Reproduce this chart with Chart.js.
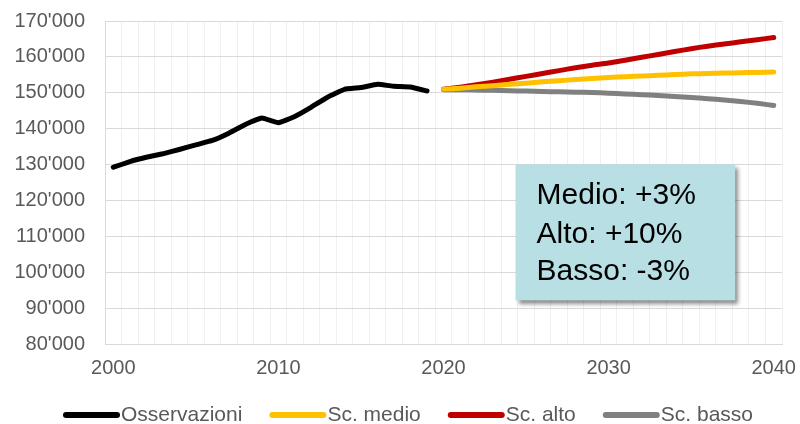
<!DOCTYPE html>
<html>
<head>
<meta charset="utf-8">
<script src="https://cdn.jsdelivr.net/npm/chart.js@4"></script>
<style>
  body { margin: 0; background: #fff; }
  #wrap { width: 800px; height: 424px; }
</style>
</head>
<body>
<div id="wrap"><canvas id="popChart" width="800" height="424"></canvas></div>
<script>
// anni 2000-2040
var years = [];
for (var y = 2000; y <= 2040; y++) years.push(y);

var osservazioni = [129300, 130900, 132100, 133050, 134250, 135550, 136760, 138800, 141230, 143000,
  141700, 143460, 146060, 148860, 151000, 151480, 152400, 151840, 151650, 150530];
var scMedio = [151000, 151300, 151700, 152000, 152400, 152700, 153100, 153400, 153700, 154000, 154300,
  154500, 154700, 154900, 155100, 155300, 155400, 155500, 155600, 155700, 155800];
var scAlto = [151000, 151600, 152300, 153000, 153800, 154600, 155400, 156200, 157000, 157700, 158300,
  159100, 159900, 160700, 161500, 162300, 163000, 163600, 164200, 164800, 165400];
var scBasso = [150900, 150900, 150800, 150700, 150600, 150500, 150400, 150300, 150200, 150100, 149900,
  149700, 149500, 149300, 149000, 148700, 148400, 148000, 147600, 147100, 146500];
var boxLines = ["Medio: +3%", "Alto: +10%", "Basso: -3%"];

var FONT = '"Liberation Sans", Arial, sans-serif';

function pad(arr, before) {
  var out = [];
  for (var i = 0; i < before; i++) out.push(null);
  out = out.concat(arr);
  while (out.length < years.length) out.push(null);
  return out;
}

function fmt(v) {
  return String(v).replace(/\B(?=(\d{3})+(?!\d))/g, "'");
}

// riquadro con le variazioni
var textBox = {
  id: 'textBox',
  afterDatasetsDraw: function (chart) {
    var ctx = chart.ctx;
    var xs = chart.scales.x, ys = chart.scales.y;
    var x0 = xs.getPixelForValue(24) + 6;
    var x1 = xs.getPixelForValue(37) + 11;
    var y0 = ys.getPixelForValue(130100);
    var y1 = ys.getPixelForValue(92300);
    ctx.save();
    ctx.shadowColor = 'rgba(0,0,0,0.45)';
    ctx.shadowBlur = 4;
    ctx.shadowOffsetX = 3;
    ctx.shadowOffsetY = 4;
    ctx.fillStyle = '#b8dfe3';
    ctx.fillRect(x0, y0, x1 - x0, y1 - y0);
    ctx.restore();
    ctx.save();
    ctx.fillStyle = '#000';
    ctx.font = '30px ' + FONT;
    ctx.textBaseline = 'alphabetic';
    var base = [40, 79, 116];
    for (var i = 0; i < boxLines.length; i++) {
      ctx.fillText(boxLines[i], x0 + 21, y0 + base[i]);
    }
    ctx.restore();
  }
};

// legenda in basso (linea + testo attaccato)
var bottomLegend = {
  id: 'bottomLegend',
  afterDraw: function (chart) {
    var ctx = chart.ctx;
    var x = 66, yMid = 415;
    ctx.save();
    ctx.font = '21px ' + FONT;
    ctx.textBaseline = 'middle';
    chart.data.datasets.forEach(function (ds) {
      ctx.strokeStyle = ds.borderColor;
      ctx.lineWidth = 6;
      ctx.lineCap = 'round';
      ctx.beginPath();
      ctx.moveTo(x, yMid);
      ctx.lineTo(x + 51, yMid);
      ctx.stroke();
      x += 55;
      ctx.fillStyle = '#595959';
      ctx.fillText(ds.label, x, yMid);
      x += ctx.measureText(ds.label).width + 30;
    });
    ctx.restore();
  }
};

var lineBase = { fill: false, pointRadius: 0, borderWidth: 5, borderCapStyle: 'round',
  borderJoinStyle: 'round', tension: 0.25, spanGaps: false };

new Chart(document.getElementById('popChart'), {
  type: 'line',
  data: {
    labels: years,
    datasets: [
      Object.assign({}, lineBase, { label: 'Osservazioni', data: pad(osservazioni, 0), borderColor: '#000000', tension: 0.1 }),
      Object.assign({}, lineBase, { label: 'Sc. medio', data: pad(scMedio, 20), borderColor: '#ffc000' }),
      Object.assign({}, lineBase, { label: 'Sc. alto', data: pad(scAlto, 20), borderColor: '#c00000' }),
      Object.assign({}, lineBase, { label: 'Sc. basso', data: pad(scBasso, 20), borderColor: '#808080' })
    ]
  },
  options: {
    responsive: false,
    animation: false,
    layout: { padding: { top: 21, right: 18, left: 0, bottom: 31.5 } },
    plugins: {
      tooltip: { enabled: false },
      legend: { display: false }
    },
    scales: {
      x: {
        type: 'category',
        offset: true,
        grid: { color: '#f0f0f0', lineWidth: 1, offset: true, drawTicks: false },
        border: { color: '#d9d9d9' },
        afterFit: function (scale) { scale.paddingLeft = 0; scale.paddingRight = 0; },
        ticks: {
          autoSkip: false,
          maxRotation: 0,
          padding: 12,
          color: '#595959',
          font: { family: FONT, size: 20 },
          callback: function (val, idx) {
            var yr = years[idx];
            return yr % 10 === 0 ? String(yr) : '';
          }
        }
      },
      y: {
        min: 80000,
        max: 170000,
        grid: { color: '#d9d9d9', drawTicks: false },
        border: { color: '#d9d9d9' },
        afterFit: function (scale) { scale.width = 105; scale.paddingTop = 0; scale.paddingBottom = 0; },
        ticks: {
          stepSize: 10000,
          padding: 20,
          color: '#595959',
          font: { family: FONT, size: 20 },
          callback: function (v) { return fmt(v); }
        }
      }
    }
  },
  plugins: [textBox, bottomLegend]
});
</script>
</body>
</html>
